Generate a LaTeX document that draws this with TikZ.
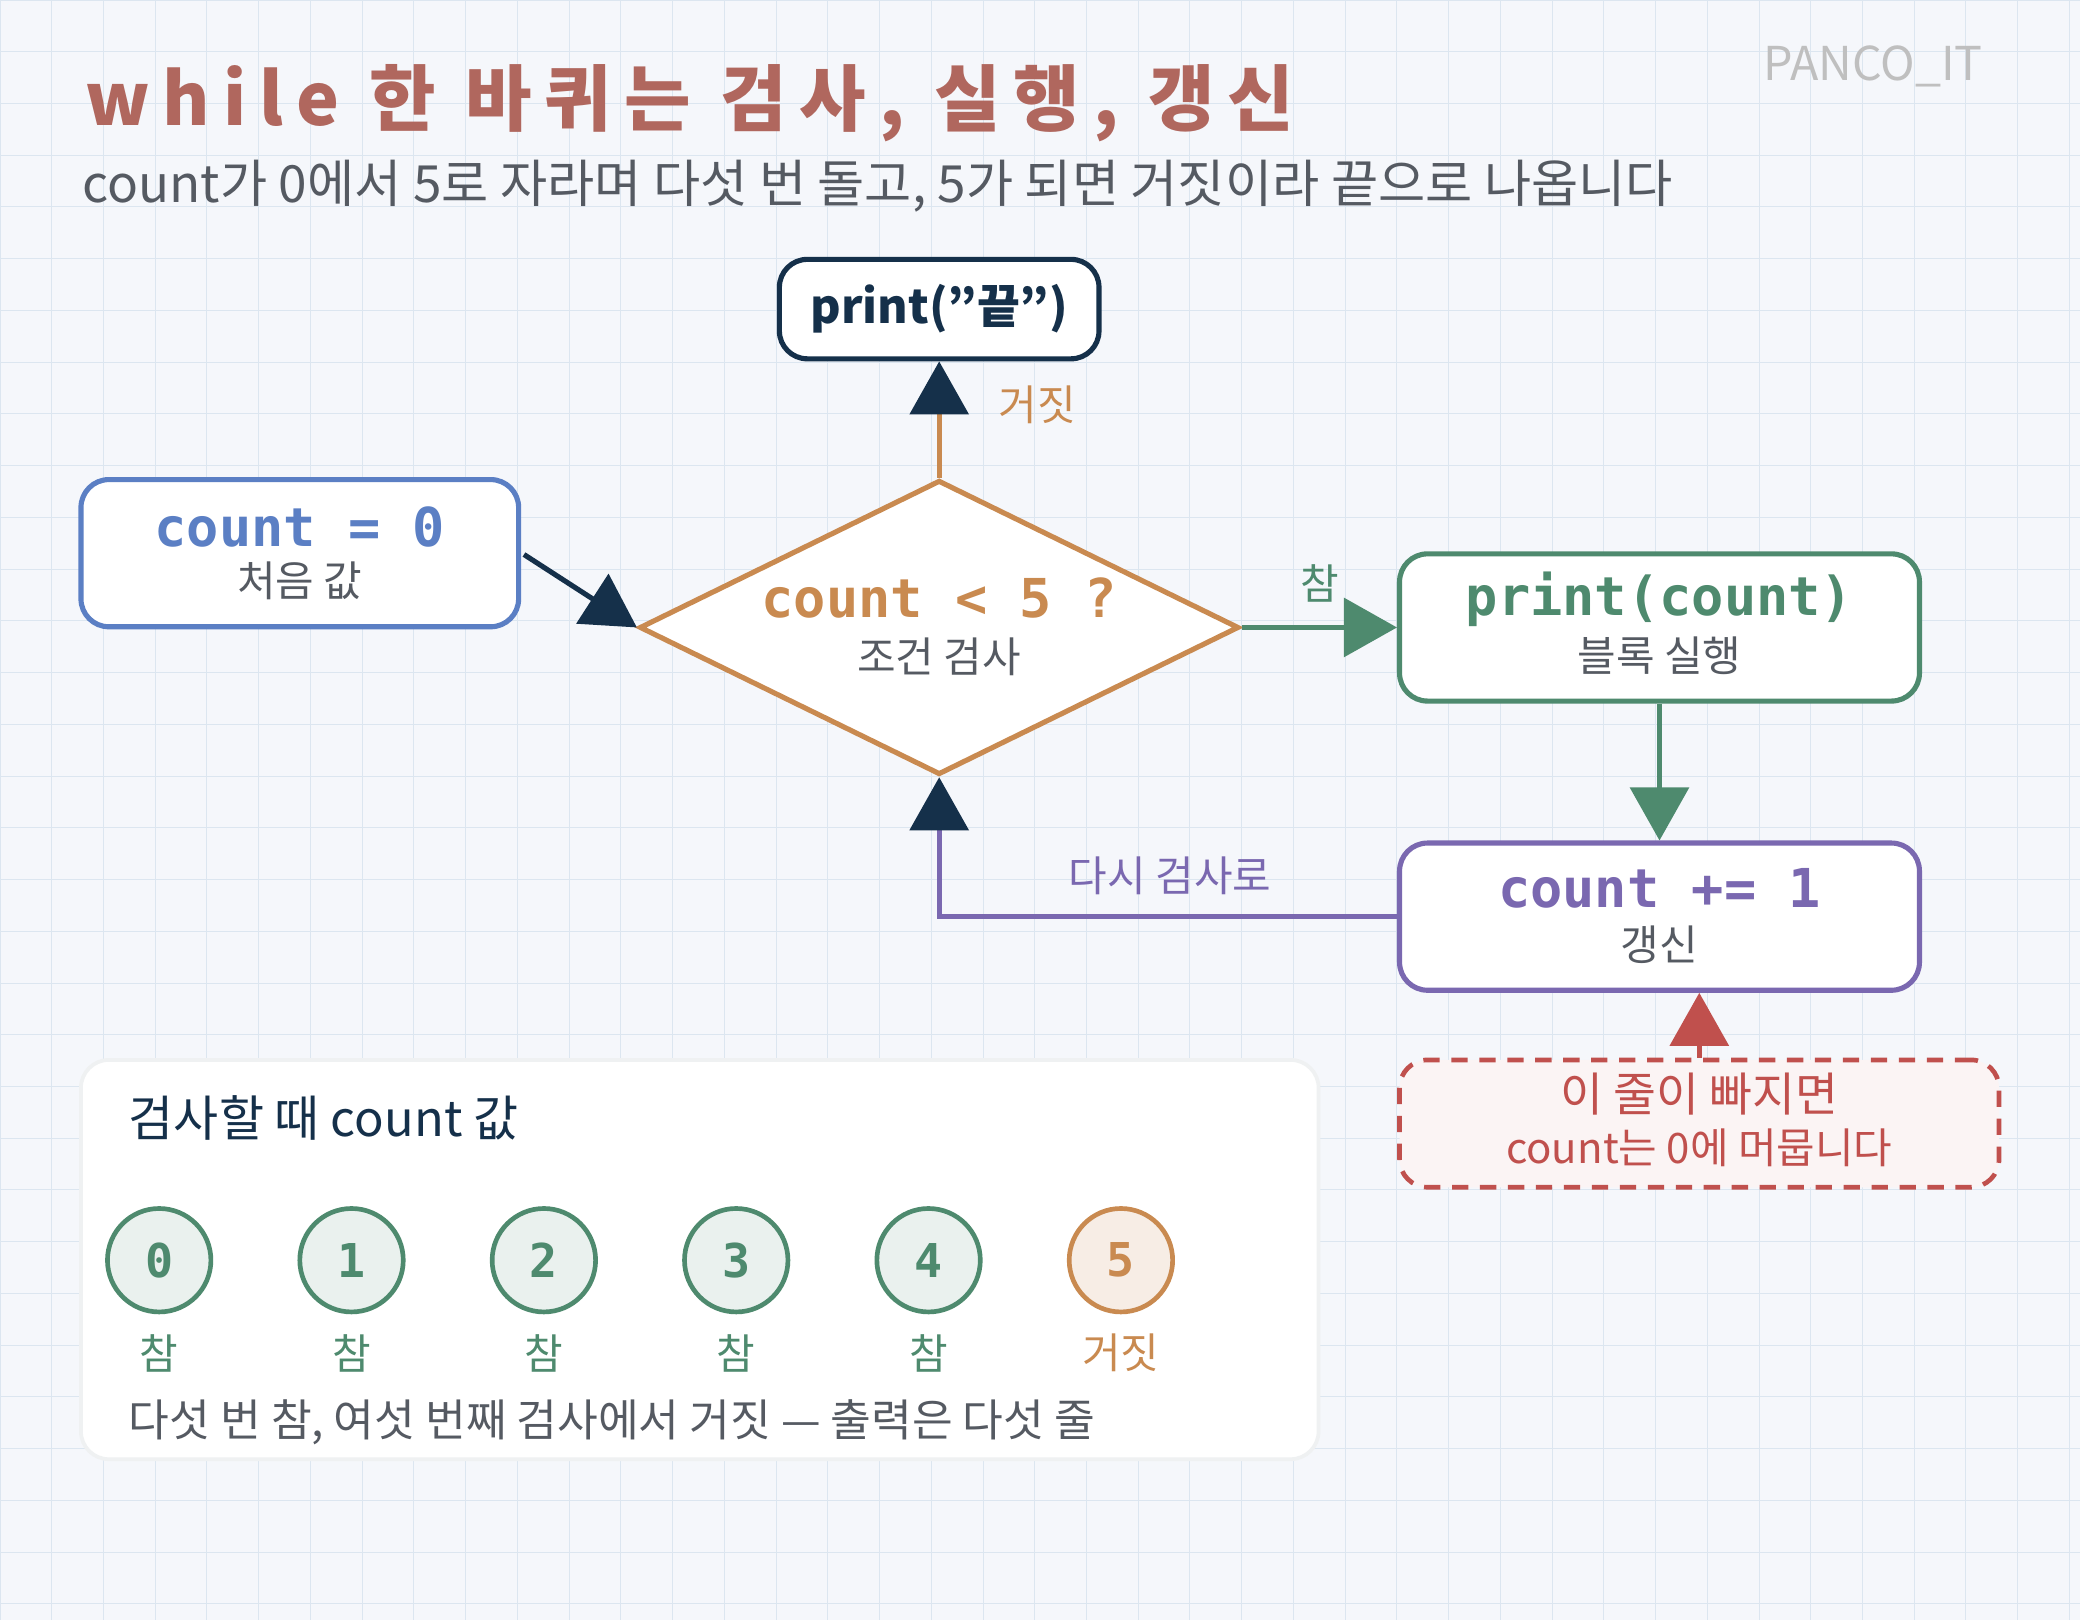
\documentclass[tikz,border=0pt]{standalone}
\usepackage{fontspec}
\setmainfont{Noto Sans CJK KR}
\newfontfamily\codefont{DejaVu Sans Mono}
\newfontfamily\titlefont[LetterSpace=18]{Noto Sans CJK KR}
\usetikzlibrary{arrows.meta,shapes.geometric,positioning}
\definecolor{bgc}{HTML}{F5F7FB}
\definecolor{gridc}{HTML}{DCE6F0}
\definecolor{navy}{HTML}{15304A}
\definecolor{ttl}{HTML}{B0675E}
\definecolor{txt}{HTML}{555A62}
\definecolor{bluec}{HTML}{5B7FC4}
\definecolor{orc}{HTML}{C98A50}
\definecolor{grc}{HTML}{4E8A6E}
\definecolor{puc}{HTML}{7A68B0}
\definecolor{rdc}{HTML}{C0504D}
\begin{document}
\begin{tikzpicture}[x=0.02cm,y=-0.02cm,
  box/.style={draw,line width=2.2pt,rounded corners=12pt,fill=white,minimum width=7.84cm,minimum height=2.22cm},
  code/.style={font=\codefont\bfseries\fontsize{23}{26}\selectfont},
  sub/.style={font=\fontsize{18}{20}\selectfont,text=txt},
  lbl/.style={font=\fontsize{18}{20}\selectfont},
  arr/.style={line width=2.2pt,-{Triangle[width=0.88cm,length=0.8cm]}},
  navyarr/.style={line width=2.2pt,-{Triangle[width=0.88cm,length=0.8cm,color=navy]}},
  val/.style={circle,draw=grc,fill=grc!12,line width=2pt,minimum size=1.56cm,text=grc,font=\codefont\bfseries\fontsize{20}{24}\selectfont}]
  \useasboundingbox (0,0) rectangle (1568,1221);
  \fill[bgc] (0,0) rectangle (1568,1221);
  \foreach \i in {0,...,40} \draw[gridc,line width=0.4pt] (\i*39,0) -- (\i*39,1221);
  \foreach \j in {0,...,31} \draw[gridc,line width=0.4pt] (0,\j*39) -- (1568,\j*39);
  % titles
  \node[text=black!25,font=\fontsize{20}{24}\selectfont] (mark) at (1412,50) {PANCO\_IT};
  \node[anchor=west,text=ttl,font=\titlefont\bfseries\fontsize{31}{34}\selectfont] (title) at (58,78) {while 한 바퀴는 검사, 실행, 갱신};
  \node[anchor=west,text=txt,font=\fontsize{22}{26}\selectfont] (subtitle) at (56,140) {count가 0에서 5로 자라며 다섯 번 돌고, 5가 되면 거짓이라 끝으로 나옵니다};
  % flow
  \node[box,draw=navy,minimum width=4.82cm,minimum height=1.5cm,text=navy,font=\bfseries\fontsize{20}{24}\selectfont] (end) at (708,233) {print("끝")};
  \node[box,draw=bluec,minimum width=6.6cm] (init) at (226,417) {};
  \node[code,text=bluec] (initt) at (226,397) {count = 0};
  \node[sub] (initl) at (226,438) {처음 값};
  \node[diamond,draw=orc,fill=white,line width=2.2pt,minimum width=9.04cm,minimum height=4.44cm,inner sep=0pt] (cond) at (708,473) {};
  \node[code,text=orc] (condt) at (708,451) {count < 5 ?};
  \node[sub] (condl) at (708,495) {조건 검사};
  \node[box,draw=grc] (body) at (1251,473) {};
  \node[code,text=grc] (bodyt) at (1251,452) {print(count)};
  \node[sub] (bodyl) at (1251,494) {블록 실행};
  \node[box,draw=puc] (upd) at (1251,691) {};
  \node[code,text=puc] (updt) at (1251,670) {count += 1};
  \node[sub] (updl) at (1251,712) {갱신};
  \node[draw=rdc,dash pattern=on 7pt off 5pt,line width=2pt,rounded corners=12pt,fill=rdc!6,minimum width=9.04cm,minimum height=1.92cm] (warn) at (1281,847) {};
  \node[text=rdc,font=\fontsize{20}{22}\selectfont] (warnt) at (1281,825) {이 줄이 빠지면};
  \node[text=rdc,font=\fontsize{18}{20}\selectfont] (warnl) at (1281,865) {count는 0에 머뭅니다};
  \draw[navyarr,draw=orc] (cond.north) -- (end.south);
  \node[lbl,text=orc] (no) at (782,305) {거짓};
  \draw[arr,draw=navy] (395,418) -- (cond.west);
  \draw[arr,draw=grc] (cond.east) -- (body.west);
  \node[lbl,text=grc] (yes) at (995,440) {참};
  \draw[arr,draw=grc] (body.south) -- (upd.north);
  \draw[navyarr,draw=puc] (upd.west) -| (cond.south);
  \node[lbl,text=puc] (again) at (882,660) {다시 검사로};
  \draw[arr,draw=rdc] (warn.north -| 1281,0) -- (upd.south -| 1281,0);
  % panel
  \draw[draw=gridc!80!black!20,fill=white,line width=1.6pt,rounded corners=12pt] (61,799) rectangle (994,1100);
  \node[anchor=west,text=navy,font=\fontsize{21}{24}\selectfont] (ptitle) at (91,843) {검사할 때 count 값};
  \foreach \v [count=\k from 0] in {0,1,2,3,4} {
    \node[val] (c\v) at (120+\k*145,950) {\v};
    \node[lbl,text=grc] (t\v) at (120+\k*145,1020) {참};
  }
  \node[val,draw=orc,fill=orc!15,text=orc] (c5) at (845,950) {5};
  \node[lbl,text=orc] (t5) at (845,1020) {거짓};
  \node[anchor=west,text=txt,font=\fontsize{19}{22}\selectfont] (foot) at (91,1072) {다섯 번 참, 여섯 번째 검사에서 거짓 — 출력은 다섯 줄};
\end{tikzpicture}
\end{document}
